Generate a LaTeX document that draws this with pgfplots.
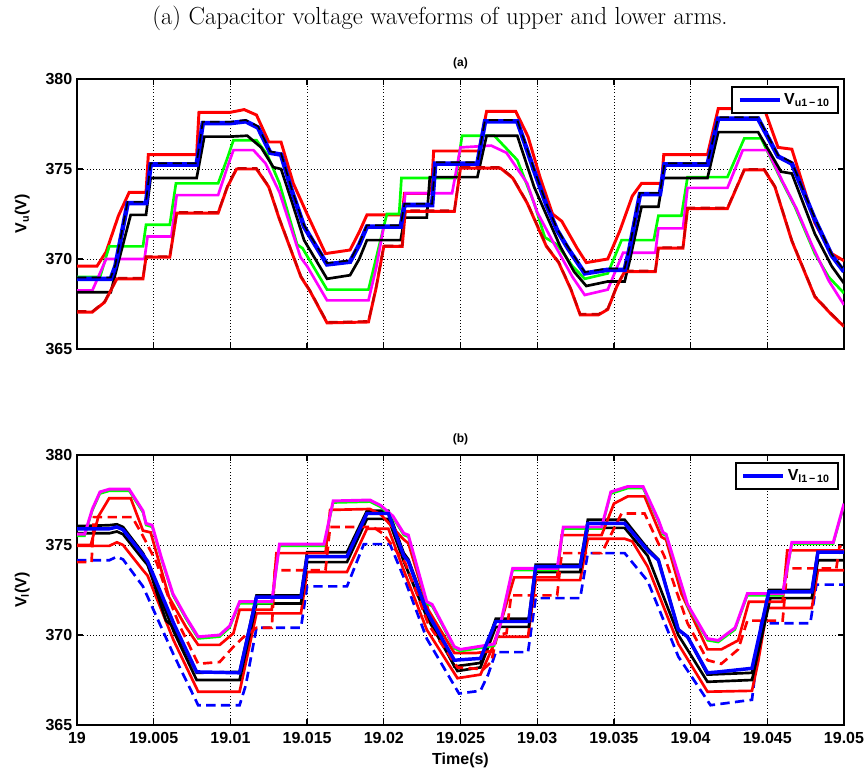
\documentclass[border=0pt]{standalone}
\usepackage{fontspec}
\usepackage{pgfplots}
\usepackage{pgfplotstable}
\pgfplotsset{compat=1.18}
\newfontfamily\hv{Liberation Sans}
\definecolor{mred}{rgb}{1,0,0}
\definecolor{mgreen}{rgb}{0,1,0}
\definecolor{mblue}{rgb}{0,0,1}
\definecolor{mmag}{rgb}{1,0,1}

% time in ms after 19 s, voltage in V
% ---- upper arm ----
\pgfplotstableread[row sep=\\]{t v\\
0 369.6\\ 1.3 369.6\\ 1.9 370.4\\ 2.7 372.4\\ 3.4 373.7\\ 4.5 373.7\\ 4.65 375.8\\ 7.8 375.8\\ 7.95 378.15\\ 10.0 378.15\\ 10.9 378.3\\ 11.7 378.0\\ 12.5 376.5\\ 13.3 376.5\\ 14.1 374.2\\ 15.0 372.5\\ 16.2 370.3\\ 17.8 370.5\\ 18.4 371.5\\ 18.9 372.45\\ 21.2 372.45\\ 21.35 373.65\\ 23.1 373.65\\ 23.25 376.0\\ 26.2 376.0\\ 26.7 378.2\\ 28.6 378.2\\ 29.4 376.8\\ 30.2 374.5\\ 31.0 372.5\\ 31.6 372.1\\ 32.6 370.6\\ 33.2 369.8\\ 34.6 370.0\\ 35.4 371.6\\ 36.2 373.5\\ 36.8 374.2\\ 38.1 374.2\\ 38.25 375.8\\ 41.1 375.8\\ 41.8 378.35\\ 44.8 378.35\\ 45.7 376.2\\ 46.6 376.1\\ 48.1 372.0\\ 49.2 370.3\\ 50 369.9\\
}\uRa
\pgfplotstableread[row sep=\\]{t v\\
0 368.9\\ 2.2 368.9\\ 2.5 369.6\\ 3.3 373.1\\ 4.5 373.1\\ 4.8 375.25\\ 7.8 375.25\\ 8.2 377.55\\ 10.0 377.55\\ 11.0 377.65\\ 11.8 377.3\\ 12.6 375.9\\ 13.3 375.8\\ 14.0 373.8\\ 14.8 371.8\\ 16.3 369.7\\ 17.8 369.85\\ 18.4 370.8\\ 18.9 371.8\\ 21.1 371.8\\ 21.35 373.0\\ 23.15 373.0\\ 23.35 375.3\\ 26.1 375.3\\ 26.6 377.65\\ 28.7 377.65\\ 29.8 374.9\\ 30.6 373.0\\ 31.3 371.6\\ 32.0 370.6\\ 33.1 369.2\\ 34.6 369.4\\ 35.7 369.4\\ 36.0 370.5\\ 36.7 373.6\\ 38.0 373.6\\ 38.3 375.25\\ 41.1 375.25\\ 41.8 377.8\\ 44.4 377.8\\ 45.7 375.7\\ 46.6 375.3\\ 48.1 372.2\\ 49.2 370.2\\ 50 369.3\\
}\uBl
\pgfplotstableread[row sep=\\]{t v\\
0 368.15\\ 2.2 368.15\\ 2.6 369.5\\ 3.5 372.45\\ 4.5 372.45\\ 4.8 374.5\\ 7.8 374.5\\ 8.3 376.8\\ 10.0 376.8\\ 11.1 376.85\\ 12.0 376.2\\ 12.8 375.1\\ 13.3 375.0\\ 14.0 373.2\\ 14.8 371.05\\ 16.3 368.9\\ 17.8 369.1\\ 18.4 370.0\\ 18.9 371.05\\ 21.1 371.05\\ 21.35 372.3\\ 22.8 372.3\\ 23.0 374.55\\ 26.1 374.55\\ 26.7 376.85\\ 28.7 376.85\\ 29.8 374.0\\ 31.5 370.7\\ 32.4 369.3\\ 33.2 368.5\\ 34.6 368.75\\ 35.7 368.75\\ 36.0 369.8\\ 36.8 372.9\\ 37.9 372.9\\ 38.2 374.5\\ 41.1 374.5\\ 41.8 377.05\\ 44.4 377.05\\ 45.9 374.85\\ 46.6 374.75\\ 48.1 371.4\\ 49.2 369.6\\ 50 368.65\\
}\uBk
\pgfplotstableread[row sep=\\]{t v\\
0 369.0\\ 1.5 369.0\\ 2.1 370.7\\ 4.3 370.7\\ 4.5 371.9\\ 6.05 371.9\\ 6.45 374.2\\ 9.2 374.2\\ 9.8 375.6\\ 10.2 376.6\\ 11.7 376.6\\ 12.4 375.8\\ 13.2 374.2\\ 14.35 370.8\\ 14.7 370.6\\ 16.3 368.3\\ 19.0 368.3\\ 19.6 370.4\\ 20.2 372.5\\ 21.0 372.5\\ 21.15 374.5\\ 24.7 374.5\\ 25.1 376.85\\ 27.2 376.85\\ 28.7 375.5\\ 29.8 373.1\\ 30.5 371.2\\ 31.3 370.8\\ 32.3 369.6\\ 33.1 368.9\\ 34.6 369.2\\ 35.5 371.05\\ 37.6 371.05\\ 37.9 372.4\\ 39.4 372.4\\ 39.8 374.55\\ 42.4 374.55\\ 43.5 376.7\\ 44.6 376.7\\ 45.9 374.4\\ 46.8 372.9\\ 48.1 370.3\\ 49.0 369.0\\ 50 368.1\\
}\uGr
\pgfplotstableread[row sep=\\]{t v\\
0 368.25\\ 1.0 368.25\\ 1.9 370.0\\ 4.4 370.0\\ 4.6 371.25\\ 6.15 371.25\\ 6.5 373.55\\ 9.2 373.55\\ 9.8 375.1\\ 10.2 376.05\\ 11.5 376.05\\ 12.3 375.3\\ 13.2 373.7\\ 14.57 370.1\\ 15.0 369.6\\ 16.3 367.7\\ 19.0 367.7\\ 19.5 369.5\\ 20.0 371.8\\ 21.2 371.8\\ 21.4 373.65\\ 24.45 373.65\\ 25.0 376.2\\ 27.0 376.3\\ 28.0 375.9\\ 29.35 374.2\\ 30.0 372.6\\ 31.0 371.0\\ 32.3 369.0\\ 33.1 368.0\\ 34.6 368.3\\ 35.6 370.35\\ 37.7 370.35\\ 37.9 371.7\\ 39.5 371.7\\ 39.8 373.95\\ 42.4 373.95\\ 43.4 376.05\\ 45.0 376.05\\ 46.0 374.3\\ 46.9 372.8\\ 47.9 370.8\\ 49.0 368.8\\ 50 367.45\\
}\uMg
\pgfplotstableread[row sep=\\]{t v\\
0 367.05\\ 1.0 367.05\\ 1.8 367.6\\ 2.6 368.9\\ 4.3 368.9\\ 4.5 370.1\\ 6.05 370.1\\ 6.5 372.55\\ 9.2 372.55\\ 9.8 374.0\\ 10.4 375.0\\ 11.7 375.0\\ 12.5 374.0\\ 13.2 372.2\\ 14.6 369.0\\ 15.2 368.2\\ 16.3 366.45\\ 19.0 366.5\\ 19.5 368.4\\ 20.0 370.7\\ 21.2 370.7\\ 21.4 372.65\\ 24.6 372.65\\ 25.0 375.05\\ 27.6 375.05\\ 28.4 374.5\\ 29.35 373.1\\ 30.6 370.7\\ 31.4 369.8\\ 32.2 368.3\\ 32.8 366.9\\ 34.0 366.9\\ 34.6 367.2\\ 35.2 368.5\\ 35.7 369.3\\ 37.7 369.3\\ 37.9 370.6\\ 39.5 370.6\\ 39.8 372.8\\ 42.4 372.8\\ 43.5 374.95\\ 44.8 374.95\\ 45.5 374.0\\ 46.6 371.0\\ 48.1 367.9\\ 49.2 366.9\\ 50 366.25\\
}\uRb

% ---- lower arm ----
\pgfplotstableread[row sep=\\]{t v\\
0 375.6\\ 0.5 375.6\\ 1.0 377.0\\ 1.5 377.95\\ 2.1 378.1\\ 3.4 378.1\\ 4.3 376.9\\ 4.5 376.2\\ 4.9 376.1\\ 5.5 374.3\\ 6.25 372.3\\ 7.1 371.0\\ 7.9 369.9\\ 9.3 370.0\\ 9.95 370.5\\ 10.6 371.85\\ 12.7 371.85\\ 13.2 375.05\\ 16.1 375.05\\ 16.7 377.45\\ 19.1 377.5\\ 19.8 377.2\\ 20.6 376.6\\ 21.3 375.65\\ 21.6 375.55\\ 22.8 371.85\\ 23.15 371.7\\ 24.6 369.35\\ 25.0 369.2\\ 27.2 369.5\\ 27.6 370.6\\ 28.4 373.7\\ 31.3 373.7\\ 31.7 376.0\\ 34.2 376.0\\ 34.8 377.95\\ 35.9 378.25\\ 36.9 378.25\\ 37.9 376.4\\ 38.2 375.7\\ 38.4 375.6\\ 39.8 371.7\\ 41.1 369.8\\ 41.8 369.7\\ 42.9 370.4\\ 43.7 372.3\\ 46.0 372.3\\ 46.6 375.15\\ 49.3 375.15\\ 50 377.3\\
}\lMg
\pgfplotstableread[row sep=\\]{t v\\
0 375.0\\ 0.9 375.0\\ 1.4 376.6\\ 2.1 377.6\\ 3.5 377.6\\ 4.3 375.8\\ 4.8 375.7\\ 6.0 372.1\\ 7.1 370.45\\ 7.9 369.45\\ 9.3 369.45\\ 10.2 370.1\\ 10.6 371.4\\ 12.7 371.4\\ 13.0 374.55\\ 16.2 374.55\\ 16.5 376.95\\ 19.1 377.0\\ 19.8 376.7\\ 21.3 375.3\\ 21.6 375.1\\ 22.9 371.4\\ 24.6 369.0\\ 26.0 369.0\\ 27.0 369.1\\ 27.6 370.6\\ 28.5 373.2\\ 31.3 373.2\\ 31.6 375.55\\ 34.2 375.55\\ 35.0 377.3\\ 35.9 377.7\\ 37.0 377.7\\ 38.1 375.45\\ 38.4 375.3\\ 39.4 372.3\\ 41.1 369.2\\ 42.0 369.2\\ 43.1 369.7\\ 43.8 371.85\\ 46.0 371.85\\ 46.3 374.7\\ 50 374.7\\
}\lRa
\pgfplotstableread[row sep=\\]{t v\\
0 374.05\\ 0.95 374.05\\ 1.1 376.55\\ 3.6 376.55\\ 4.3 375.5\\ 5.2 374.0\\ 6.0 372.0\\ 6.7 370.5\\ 7.9 368.4\\ 9.3 368.5\\ 10.2 369.35\\ 11.0 370.0\\ 11.7 370.4\\ 12.7 370.4\\ 12.9 373.6\\ 16.2 373.6\\ 16.5 376.0\\ 19.3 376.0\\ 20.0 375.6\\ 21.4 374.0\\ 22.9 370.6\\ 24.8 368.2\\ 26.5 368.1\\ 27.0 368.5\\ 27.4 370.0\\ 28.0 370.1\\ 28.3 372.2\\ 31.3 372.2\\ 31.6 374.55\\ 34.2 374.55\\ 35.5 376.75\\ 37.0 376.75\\ 38.3 374.35\\ 39.8 370.65\\ 41.1 368.6\\ 42.0 368.4\\ 43.1 369.2\\ 43.7 370.8\\ 46.0 370.8\\ 46.3 373.7\\ 49.5 373.7\\ 49.7 374.9\\ 50 375.0\\
}\lRd
\pgfplotstableread[row sep=\\]{t v\\
0 376.05\\ 2.1 376.1\\ 2.6 376.15\\ 3.0 376.0\\ 4.3 374.55\\ 4.5 374.2\\ 5.8 370.8\\ 6.3 370.45\\ 7.8 367.9\\ 10.6 367.95\\ 11.7 372.2\\ 14.6 372.2\\ 15.0 374.6\\ 17.6 374.6\\ 18.9 376.9\\ 20.3 376.9\\ 21.3 374.55\\ 21.6 374.2\\ 22.8 371.4\\ 24.6 368.25\\ 26.3 368.45\\ 27.3 370.9\\ 29.45 370.9\\ 29.9 373.9\\ 32.8 373.9\\ 33.3 376.4\\ 35.7 376.4\\ 37.2 374.8\\ 37.9 374.2\\ 39.2 370.3\\ 39.8 369.9\\ 41.1 367.8\\ 44.0 367.9\\ 45.1 372.5\\ 47.9 372.5\\ 48.3 374.7\\ 50 374.7\\
}\lKa
\pgfplotstableread[row sep=\\]{t v\\
0 375.9\\ 2.1 375.9\\ 2.6 376.0\\ 3.0 375.85\\ 4.3 374.45\\ 4.6 374.1\\ 6.3 370.65\\ 7.8 367.95\\ 10.6 367.9\\ 11.7 372.1\\ 14.6 372.1\\ 15.0 374.35\\ 17.6 374.35\\ 18.9 376.75\\ 20.3 376.75\\ 21.3 374.4\\ 21.6 374.1\\ 22.8 371.3\\ 24.6 368.6\\ 26.3 368.7\\ 27.3 370.75\\ 29.45 370.75\\ 29.9 373.8\\ 32.8 373.8\\ 33.3 376.2\\ 35.7 376.2\\ 37.2 374.7\\ 37.9 374.15\\ 39.2 370.3\\ 39.8 369.9\\ 41.1 367.9\\ 41.8 367.95\\ 44.0 368.15\\ 45.1 372.4\\ 47.9 372.4\\ 48.3 374.6\\ 50 374.6\\
}\lBl
\pgfplotstableread[row sep=\\]{t v\\
0 375.65\\ 2.1 375.65\\ 2.6 375.75\\ 3.0 375.6\\ 4.3 374.2\\ 4.6 373.9\\ 6.3 370.2\\ 7.8 367.5\\ 10.6 367.5\\ 11.7 371.75\\ 14.6 371.75\\ 15.0 374.05\\ 17.6 374.05\\ 18.9 376.45\\ 20.3 376.45\\ 21.3 374.1\\ 22.8 371.0\\ 24.8 368.0\\ 26.3 368.2\\ 27.3 370.45\\ 29.45 370.45\\ 29.9 373.5\\ 32.8 373.5\\ 33.3 375.95\\ 35.7 375.95\\ 37.2 374.4\\ 39.2 370.0\\ 41.1 367.4\\ 44.0 367.5\\ 45.2 372.05\\ 47.9 372.05\\ 48.3 374.15\\ 50 374.15\\
}\lKb
\pgfplotstableread[row sep=\\]{t v\\
0 374.95\\ 2.1 374.95\\ 2.6 375.15\\ 3.0 375.0\\ 4.3 373.6\\ 4.6 373.3\\ 6.3 369.7\\ 7.9 366.85\\ 10.6 366.85\\ 11.7 371.2\\ 14.6 371.2\\ 15.0 373.5\\ 17.6 373.5\\ 18.9 375.9\\ 20.3 375.9\\ 21.3 373.6\\ 22.8 370.3\\ 24.8 367.6\\ 26.3 367.8\\ 27.4 369.9\\ 29.4 369.9\\ 29.9 373.05\\ 32.8 373.05\\ 33.3 375.35\\ 35.7 375.35\\ 36.2 375.2\\ 37.2 373.8\\ 39.2 369.5\\ 41.1 366.85\\ 44.0 366.9\\ 44.4 368.5\\ 45.0 371.5\\ 47.9 371.5\\ 48.3 373.6\\ 50 373.6\\
}\lRb
\pgfplotstableread[row sep=\\]{t v\\
0 374.15\\ 2.1 374.15\\ 2.6 374.35\\ 3.0 374.2\\ 4.3 372.7\\ 6.3 368.9\\ 7.9 366.1\\ 10.6 366.1\\ 11.0 367.2\\ 11.7 370.4\\ 14.6 370.4\\ 15.0 372.7\\ 17.6 372.7\\ 18.7 375.05\\ 20.4 375.05\\ 21.4 373.0\\ 22.8 369.8\\ 24.9 366.75\\ 26.3 366.9\\ 26.8 367.8\\ 27.3 369.05\\ 29.4 369.05\\ 29.9 372.05\\ 32.8 372.05\\ 33.3 374.55\\ 35.7 374.55\\ 37.2 373.0\\ 39.2 368.8\\ 41.3 366.1\\ 44.0 366.4\\ 44.6 370.65\\ 47.8 370.65\\ 48.2 372.8\\ 50 372.8\\
}\lBd

\pgfplotsset{
  wave/.style={
    scale only axis, width=575.25pt, height=202.5pt,
    xmin=0, xmax=50, ymin=365, ymax=380,
    xtick={0,5,...,50}, ytick={365,370,375,380},
    yticklabels={365,370,375,380},
    tick align=inside, major tick length=4.5pt,
    axis line style={line width=1.5pt},
    tick style={line width=1pt, black},
    grid=major, grid style={dotted, black, line width=0.6pt},
    ticklabel style={font=\hv\bfseries\fontsize{12}{12}\selectfont},
    xticklabel style={yshift=-2pt},
    label style={font=\hv\bfseries\fontsize{12}{14}\selectfont},
    title style={font=\hv\bfseries\fontsize{9}{9}\selectfont, yshift=-2pt},
    legend style={at={(0.993,0.975)}, anchor=north east, draw=black,
      line width=1.5pt, font=\hv\bfseries\fontsize{12}{14}\selectfont,
      inner xsep=4pt, inner ysep=3pt},
    legend image code/.code={\draw[#1] (0pt,0pt) -- (30pt,0pt);},
    ylabel style={yshift=5pt},
  },
  sol/.style={line width=#1, solid},
  dsh/.style={line width=#1, dash pattern=on 7pt off 4pt},
}

\begin{document}
\begin{tikzpicture}
\path[use as bounding box] (0,0) rectangle (649.5pt,576.75pt);
\node[font=\fontsize{18.5}{22}\selectfont] at (330pt,563pt)
  {(a) Capacitor voltage waveforms of upper and lower arms.};

\begin{axis}[wave, at={(57.75pt,315pt)}, anchor=south west,
  xticklabels={}, title={(a)},
  ylabel={V\textsubscript{u}(V)}]
\addplot[mred, sol=2.2pt, forget plot] table[x=t,y=v] {\uRa};
\addplot[mgreen, sol=2pt, forget plot] table[x=t,y=v] {\uGr};
\addplot[mmag, sol=2pt, forget plot] table[x=t,y=v] {\uMg};
\addplot[black, sol=2pt, forget plot] table[x=t,y=v] {\uBk};
\addplot[mred, sol=2.2pt, forget plot] table[x=t,y=v] {\uRb};
\addplot[mred!80!black, dsh=1.6pt, yshift=0.6pt, forget plot] table[x=t,y=v] {\uRb};
\addplot[mblue, sol=3.4pt, forget plot] table[x=t,y=v] {\uBl};
\addplot[black, dsh=1.3pt, yshift=1pt, forget plot] table[x=t,y=v] {\uBl};
\addlegendimage{mblue, line width=3pt}
\addlegendentry{V\textsubscript{u1\,−\,10}}
\end{axis}

\begin{axis}[wave, at={(57.75pt,33pt)}, anchor=south west,
  xticklabels={19,19.005,19.01,19.015,19.02,19.025,19.03,19.035,19.04,19.045,19.05},
  title={(b)}, xlabel={Time(s)}, ylabel={V\textsubscript{l}(V)},
  xlabel style={yshift=0pt}]
\addplot[mblue, dsh=2pt, forget plot] table[x=t,y=v] {\lBd};
\addplot[mred, sol=2pt, forget plot] table[x=t,y=v] {\lRb};
\addplot[black, sol=2pt, forget plot] table[x=t,y=v] {\lKb};
\addplot[black, sol=2pt, forget plot] table[x=t,y=v] {\lKa};
\addplot[mred, dsh=2pt, forget plot] table[x=t,y=v] {\lRd};
\addplot[mred, sol=2pt, forget plot] table[x=t,y=v] {\lRa};
\addplot[mgreen, sol=1.6pt, yshift=-1.4pt, forget plot] table[x=t,y=v] {\lMg};
\addplot[mmag, sol=2.2pt, forget plot] table[x=t,y=v] {\lMg};
\addplot[mblue, sol=2.6pt, forget plot] table[x=t,y=v] {\lBl};
\addlegendimage{mblue, line width=3pt}
\addlegendentry{V\textsubscript{l1\,−\,10}}
\end{axis}
\end{tikzpicture}
\end{document}
